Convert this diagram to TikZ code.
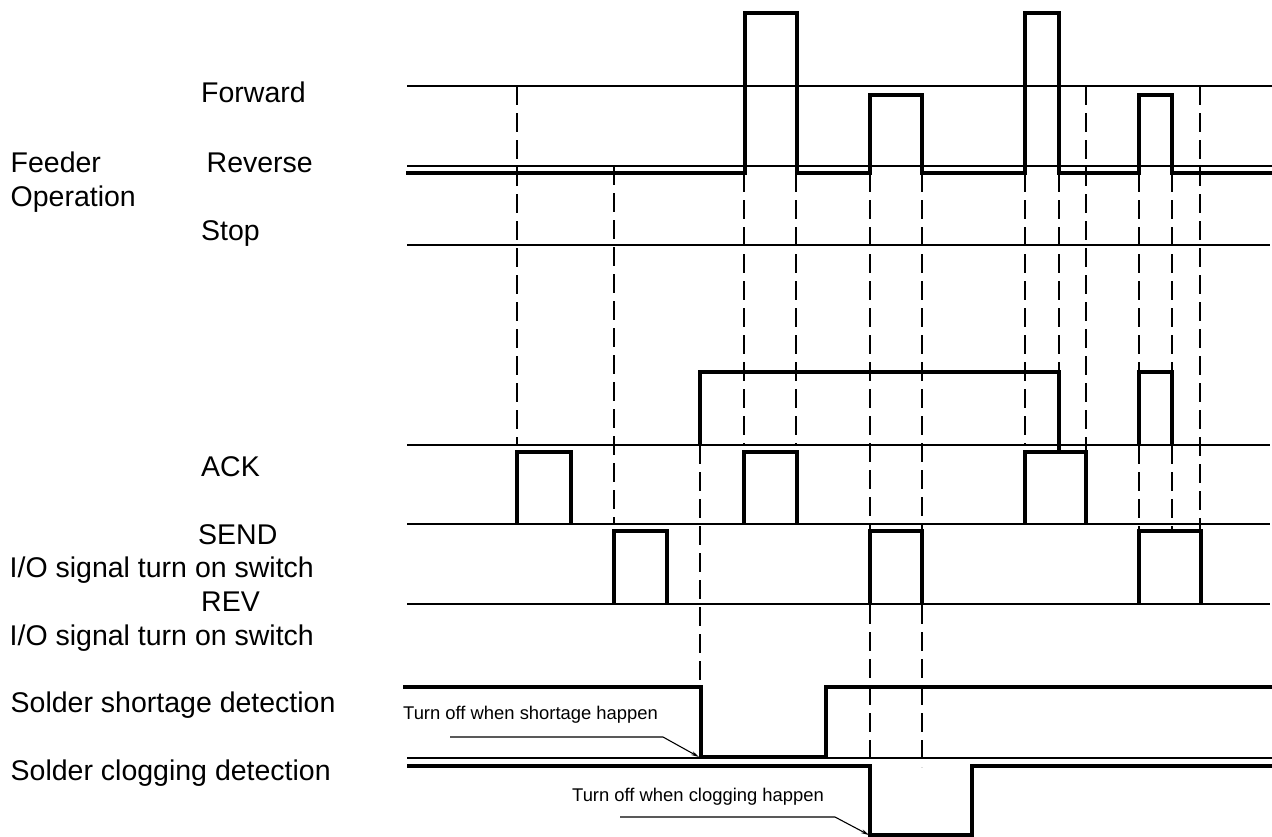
\documentclass[tikz,border=0pt]{standalone}
\usepackage{fontspec}
\setmainfont{Liberation Sans}
\usetikzlibrary{arrows.meta}
\begin{document}
\begin{tikzpicture}[x=1pt,y=-1pt,
  gridline/.style={line width=1.5pt},
  sig/.style={line width=3.2pt, line join=miter},
  guide/.style={line width=1.5pt, dash pattern=on 19pt off 8pt},
  lbl/.style={anchor=base west, inner sep=0pt, font=\fontsize{28.5}{32}\selectfont},
  note/.style={anchor=base west, inner sep=0pt, font=\fontsize{18.4}{21}\selectfont},
  lead/.style={line width=1.1pt, -{Stealth[length=8pt,width=4pt]}}]
\useasboundingbox[fill=white] (0,0) rectangle (1272,836);

% left labels
\node[lbl] (fwd) at (201,102.5) {Forward};
\node[lbl] (feeder) at (10.5,172.5) {Feeder};
\node[lbl] (rev) at (206.5,172.5) {Reverse};
\node[lbl] (oper) at (10.5,206.5) {Operation};
\node[lbl] (stop) at (201,240) {Stop};
\node[lbl] (ack) at (201,476.5) {ACK};
\node[lbl] (send) at (198,544) {SEND};
\node[lbl] (io1) at (9.5,577.5) {I/O signal turn on switch};
\node[lbl] (revsig) at (201,611.5) {REV};
\node[lbl] (io2) at (9.5,645.5) {I/O signal turn on switch};
\node[lbl] (short) at (10.5,712.5) {Solder shortage detection};
\node[lbl] (clog) at (10.5,780) {Solder clogging detection};

% reference lines
\draw[gridline] (407,86) -- (1272,86);
\draw[gridline] (407,166) -- (1272,166);
\draw[gridline] (407,245) -- (1270,245);
\draw[gridline] (407,445) -- (1270,445);
\draw[gridline] (407,524) -- (1270,524);
\draw[gridline] (407,604) -- (1270,604);
\draw[gridline] (407,758) -- (1272,758);

% dashed guides
\draw[guide] (517,86) -- (517,445);
\draw[guide] (614,166) -- (614,524);
\draw[guide] (744,173) -- (744,445);
\draw[guide] (796,173) -- (796,445);
\draw[guide] (700,445) -- (700,687);
\draw[guide] (870,173) -- (870,767);
\draw[guide] (922,173) -- (922,767);
\draw[guide] (1025,173) -- (1025,445);
\draw[guide] (1059,173) -- (1059,372);
\draw[guide] (1086,86) -- (1086,452);
\draw[guide] (1139,173) -- (1139,372);
\draw[guide] (1139,445) -- (1139,531);
\draw[guide] (1172,173) -- (1172,372);
\draw[guide] (1172,445) -- (1172,531);
\draw[guide] (1200,86) -- (1200,531);

% feeder operation
\draw[sig] (406,173) -| (745,13) -| (797,173) -| (870,95) -| (922,173)
  -| (1025,13) -| (1059,173) -| (1139,95) -| (1172,173) -- (1272,173);

% upper pulse row
\draw[sig] (700,445) |- (1059,372) -- (1059,452);
\draw[sig] (1139,445) |- (1172,372) -- (1172,445);

% ACK pulses
\draw[sig] (517,524) |- (571,452) -- (571,524);
\draw[sig] (744,524) |- (797,452) -- (797,524);
\draw[sig] (1025,524) |- (1086,452) -- (1086,524);

% SEND / REV pulses
\draw[sig] (614,604) |- (667,531) -- (667,604);
\draw[sig] (870,604) |- (922,531) -- (922,604);
\draw[sig] (1139,604) |- (1201,531) -- (1201,604);

% solder shortage
\draw[sig] (403,687) -- (701,687) -- (701,757) -- (826,757) -- (826,687) -- (1272,687);
% solder clogging
\draw[sig] (407,766) -- (870,766) -- (870,835) -- (972,835) -- (972,766) -- (1272,766);

% annotations
\node[note] (n1) at (403,719) {Turn off when shortage happen};
\coordinate (a1s) at (450,737);
\coordinate (a1k) at (663,737);
\coordinate (a1e) at (699,757);
\draw[lead] (a1s) -- (a1k) -- (a1e);
\node[note] (n2) at (572,801) {Turn off when clogging happen};
\coordinate (a2s) at (620,817);
\coordinate (a2k) at (835,817);
\coordinate (a2e) at (869,835);
\draw[lead] (a2s) -- (a2k) -- (a2e);
\end{tikzpicture}
\end{document}
